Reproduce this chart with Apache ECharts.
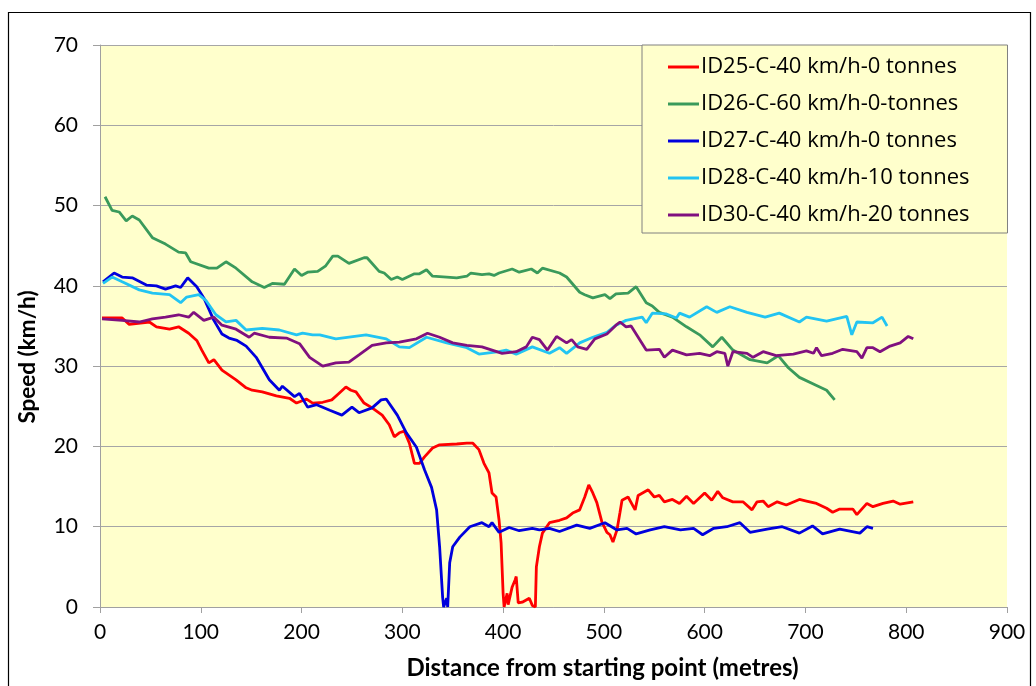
<!DOCTYPE html>
<html>
<head>
<meta charset="utf-8">
<script src="https://cdn.jsdelivr.net/npm/echarts@6/dist/echarts.min.js"></script>
<style>
html,body{margin:0;padding:0;background:#fff;}
#chart{width:1036px;height:686px;}
</style>
</head>
<body>
<div id="chart"></div>
<script>
// ---- Data (distance in metres, speed in km/h) ----
const seriesNames = [
  'ID25-C-40 km/h-0 tonnes',
  'ID26-C-60 km/h-0-tonnes',
  'ID27-C-40 km/h-0 tonnes',
  'ID28-C-40 km/h-10 tonnes',
  'ID30-C-40 km/h-20 tonnes'
];
const xTicks = [0,100,200,300,400,500,600,700,800,900];
const yTicks = [0,10,20,30,40,50,60,70];

const ID25 = [[2,36],[22,36],[29,35.2],[49,35.5],[56,34.9],[69,34.6],[78,34.9],[88,34.1],[96,33.2],[101,32],[108,30.4],[113,30.8],[121,29.5],[135,28.3],[145,27.3],[151,27],[161,26.8],[175,26.3],[188,26],[195,25.4],[205,25.9],[211,25.4],[221,25.5],[230,25.8],[237,26.6],[244,27.4],[249,27],[254,26.8],[262,25.4],[270,24.8],[280,23.9],[287,22.7],[292,21.2],[297,21.7],[302,21.9],[307,20.4],[312,17.9],[317,17.9],[322,18.7],[330,19.8],[337,20.2],[354,20.3],[364,20.4],[370,20.4],[376,19.6],[381,17.9],[386,16.7],[389,14.2],[393,13.7],[396,10.8],[398,8],[400,1.7],[401,0],[404,1.7],[405,0.3],[409,2.5],[412,3.4],[413,3.8],[415,0.5],[419,0.6],[426,1.1],[429,0.2],[432,0],[433,5],[436,7.5],[439,9.2],[446,10.5],[456,10.8],[463,11.1],[469,11.7],[476,12.1],[481,13.7],[485,15.2],[489,14.2],[493,13],[498,10.6],[503,9.3],[506,9],[509,8.1],[513,9.6],[516,11.8],[518,13.3],[524,13.7],[531,12.1],[534,13.9],[544,14.6],[550,13.7],[555,13.9],[560,13.1],[568,13.4],[575,12.9],[582,13.8],[589,12.9],[600,14.2],[607,13.3],[613,14.4],[618,13.6],[628,13.1],[638,13.1],[647,12.1],[652,13.1],[658,13.2],[663,12.5],[672,13.1],[681,12.7],[694,13.4],[701,13.2],[711,12.9],[721,12.3],[727,11.8],[734,12.2],[747,12.2],[751,11.5],[761,12.9],[767,12.5],[777,12.9],[787,13.2],[794,12.8],[807,13.1]];

const ID26 = [[5,51.1],[12,49.4],[19,49.2],[26,48.1],[32,48.7],[39,48.2],[52,46],[65,45.2],[78,44.2],[85,44.1],[90,43],[108,42.2],[116,42.2],[125,43],[135,42.2],[151,40.5],[163,39.8],[171,40.3],[183,40.2],[193,42.1],[200,41.3],[206,41.7],[216,41.8],[224,42.5],[231,43.7],[236,43.7],[247,42.8],[262,43.5],[265,43.5],[277,41.8],[282,41.6],[289,40.8],[295,41.1],[300,40.8],[312,41.5],[317,41.5],[324,42],[330,41.2],[344,41.1],[354,41],[364,41.2],[368,41.6],[379,41.4],[386,41.5],[391,41.3],[396,41.6],[409,42.1],[416,41.7],[428,42.1],[434,41.6],[439,42.2],[456,41.6],[463,41.1],[476,39.2],[481,38.9],[489,38.5],[501,38.9],[506,38.4],[512,39],[524,39.1],[532,39.9],[542,37.9],[548,37.5],[555,36.7],[568,36.1],[582,34.9],[595,33.9],[608,32.4],[617,33.6],[628,32],[645,30.8],[662,30.4],[673,31.3],[683,29.8],[694,28.6],[711,27.6],[721,27],[729,25.8]];

const ID27 = [[3,40.5],[14,41.6],[22,41.1],[32,41],[46,40.1],[56,40],[65,39.6],[75,40],[80,39.8],[87,41],[96,39.9],[103,38.5],[113,35.7],[121,34],[128,33.5],[136,33.2],[145,32.5],[155,31.1],[168,28.3],[178,27],[181,27.5],[193,26.2],[198,26.6],[206,24.9],[215,25.2],[228,24.5],[240,23.9],[250,24.9],[257,24.2],[270,24.8],[279,25.8],[284,25.9],[295,23.9],[304,21.7],[314,19.9],[322,17.1],[329,14.9],[334,12.1],[337,7.5],[340,1.2],[341,0],[344,1.1],[345,0],[347,5.5],[350,7.5],[357,8.7],[367,10],[379,10.5],[386,10],[389,10.5],[396,9.3],[406,9.9],[416,9.5],[429,9.8],[436,9.6],[446,9.8],[456,9.4],[473,10.2],[486,9.8],[501,10.5],[513,9.6],[523,9.8],[532,9.1],[546,9.6],[560,10],[576,9.6],[589,9.8],[598,9],[609,9.8],[622,10],[635,10.5],[645,9.3],[662,9.7],[677,10],[694,9.2],[707,10.1],[717,9.1],[734,9.7],[754,9.2],[761,10],[767,9.8]];

const ID28 = [[3,40.3],[12,41.1],[22,40.5],[39,39.5],[52,39.1],[69,38.9],[80,37.9],[86,38.6],[98,38.9],[105,38.2],[115,36.4],[125,35.5],[135,35.7],[145,34.5],[161,34.7],[178,34.5],[195,33.9],[201,34.1],[211,33.9],[218,33.9],[234,33.4],[264,33.9],[284,33.4],[297,32.4],[307,32.3],[324,33.6],[344,32.9],[364,32.3],[376,31.5],[396,31.8],[403,32],[413,31.5],[429,32.4],[446,31.6],[456,32.3],[463,31.6],[476,32.9],[489,33.6],[503,34.2],[512,35.1],[522,35.7],[538,36.1],[542,35.4],[548,36.6],[562,36.5],[572,36],[575,36.6],[585,36.1],[602,37.4],[612,36.7],[625,37.4],[642,36.7],[660,36.1],[674,36.6],[694,35.5],[701,36.1],[721,35.6],[741,36.2],[746,33.9],[751,35.5],[767,35.4],[776,36.1],[781,35]];

const ID30 = [[2,35.9],[22,35.7],[39,35.5],[52,35.9],[65,36.1],[78,36.4],[88,36.1],[93,36.7],[103,35.7],[113,36.1],[121,35.1],[135,34.6],[148,33.6],[153,34.1],[168,33.6],[185,33.5],[198,32.8],[208,31.1],[221,30],[234,30.4],[247,30.5],[257,31.4],[270,32.6],[284,32.9],[297,33],[314,33.4],[325,34.1],[337,33.6],[350,32.9],[364,32.6],[379,32.4],[389,32],[399,31.6],[413,31.8],[423,32.4],[429,33.6],[436,33.3],[444,32],[453,33.7],[463,32.9],[468,33.3],[474,32.4],[483,32.1],[491,33.4],[503,34],[512,35.1],[516,35.5],[522,34.9],[527,35],[542,32],[555,32.1],[560,31.1],[568,32],[582,31.4],[595,31.6],[605,31.3],[612,31.8],[620,31.6],[623,30],[628,31.8],[642,31.6],[648,31.1],[658,31.8],[671,31.3],[688,31.5],[701,31.9],[708,31.6],[711,32.3],[716,31.3],[727,31.6],[737,32.1],[751,31.8],[756,31],[761,32.3],[767,32.3],[774,31.8],[784,32.5],[794,32.9],[802,33.7],[807,33.4]];

const seriesData = [ID25, ID26, ID27, ID28, ID30];
const seriesColors = ['#FF0000', '#3A9A5B', '#0000DD', '#22C4F2', '#80107F'];

const FONT = 'Lato, "Open Sans", sans-serif';
const LEGEND_FONT = '"Open Sans", Lato, sans-serif';

const chart = echarts.init(document.getElementById('chart'), null, {renderer: 'canvas'});

chart.setOption({
  backgroundColor: '#FFFFFF',
  animation: false,
  graphic: [{
    type: 'rect',
    shape: {x: 8.5, y: 12.5, width: 1022, height: 700},
    style: {fill: 'none', stroke: '#000', lineWidth: 1.2},
    silent: true,
    z: 100
  }],
  grid: {
    left: 100, right: 29, top: 45, bottom: 79,
    show: true, backgroundColor: '#FFFFCC', borderWidth: 0
  },
  legend: {
    orient: 'vertical',
    left: 642, top: 45,
    data: seriesNames,
    icon: 'rect',
    itemWidth: 31, itemHeight: 3,
    itemGap: 15,
    padding: [11, 38, 7, 26],
    backgroundColor: '#FFFFCC',
    borderColor: '#808080', borderWidth: 1,
    borderRadius: 0,
    textStyle: {fontFamily: LEGEND_FONT, fontSize: 22, color: '#000', padding: [0,0,0,-3]}
  },
  xAxis: {
    type: 'value', min: 0, max: 900, interval: 100,
    name: 'Distance from starting point (metres)',
    nameLocation: 'middle', nameGap: 49,
    nameTextStyle: {fontFamily: FONT, fontSize: 24, fontWeight: 'bold', color: '#000', padding: [0, 0, 0, 98]},
    axisLine: {show: true, lineStyle: {color: '#A0A0A0', width: 1}},
    axisTick: {show: true, inside: false, length: 6, lineStyle: {color: '#A0A0A0'}},
    axisLabel: {fontFamily: FONT, fontSize: 21, color: '#000', margin: 15,
      formatter: v => xTicks.includes(v) ? String(v) : ''},
    splitLine: {show: false}
  },
  yAxis: {
    type: 'value', min: 0, max: 70, interval: 10,
    name: 'Speed (km/h)',
    nameLocation: 'middle', nameGap: 61, nameRotate: 90,
    nameTextStyle: {fontFamily: FONT, fontSize: 22.5, fontWeight: 'bold', color: '#000', padding: [0, 62, 0, 0]},
    axisLine: {show: true, lineStyle: {color: '#A0A0A0', width: 1}},
    axisTick: {show: true, inside: false, length: 7, lineStyle: {color: '#A0A0A0'}},
    axisLabel: {fontFamily: FONT, fontSize: 21, color: '#000', margin: 22,
      formatter: v => yTicks.includes(v) ? String(v) : ''},
    splitLine: {show: true, lineStyle: {color: '#A6A6A6', width: 1}}
  },
  series: seriesNames.map((n, i) => ({
    name: n,
    type: 'line',
    data: seriesData[i],
    showSymbol: false,
    symbol: 'none',
    color: seriesColors[i],
    lineStyle: {width: 2.8, color: seriesColors[i]},
    z: 2 + i
  }))
});
</script>
</body>
</html>
